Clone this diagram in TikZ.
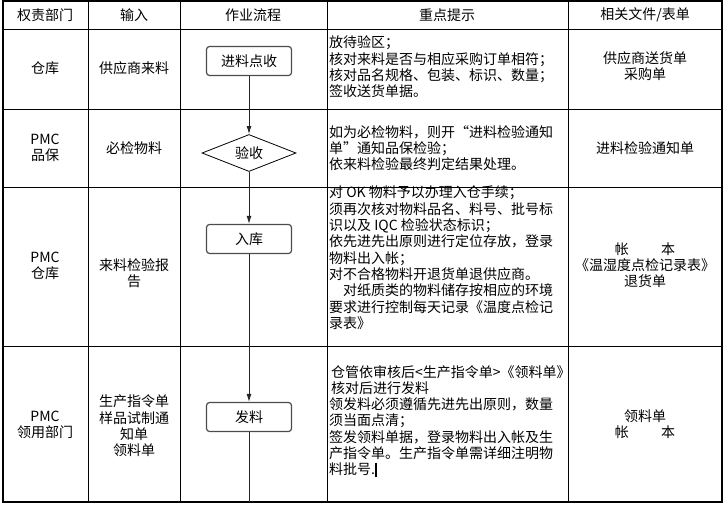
\documentclass[tikz,border=0pt]{standalone}
\usepackage{fontspec}
\setmainfont{Noto Sans CJK SC}
\usetikzlibrary{shapes.geometric, arrows.meta}

\tikzset{
  gridline/.style={line width=0.8pt},
  cell/.style={align=center, inner sep=0pt},
  note/.style={align=left, anchor=west, inner sep=0pt},
  flowbox/.style={draw=black!70, line width=1.2pt, rounded corners=3pt,
    minimum width=85pt, minimum height=29pt, inner sep=0pt},
  checkbox/.style={diamond, draw, line width=0.8pt, aspect=2.5,
    minimum width=94pt, minimum height=37pt, inner sep=0pt},
  flowline/.style={line width=0.9pt, black!85, -{Latex[length=8pt,width=5pt]}}
}

\begin{document}
\begin{tikzpicture}[x=1pt, y=-1pt, font=\fontsize{14pt}{16.3pt}\selectfont]

    \useasboundingbox (0,0) rectangle (725,504);

    % Table frame
    \draw[line width=1.8pt] (3,1) rectangle (722,502);
    \draw[gridline] (88,1) -- (88,502);
    \draw[gridline] (180,1) -- (180,502);
    \draw[gridline] (327,1) -- (327,502);
    \draw[gridline] (568,1) -- (568,502);
    \draw[gridline] (3,29) -- (722,29);
    \draw[gridline] (3,109) -- (722,109);
    \draw[gridline] (3,187) -- (722,187);
    \draw[gridline] (3,346) -- (722,346);

    % Header row
    \node[cell] (hdDept) at (45,15) {权责部门};
    \node[cell] (hdInput) at (134,15) {输入};
    \node[cell] (hdFlow) at (253,15) {作业流程};
    \node[cell] (hdHint) at (447,15) {重点提示};
    \node[cell] (hdDocs) at (645,15) {相关文件/表单};

    % Row 1: receiving
    \node[cell] (deptA) at (45,68) {仓库};
    \node[cell] (inputA) at (134,68) {供应商来料};
    \node[flowbox] (receive) at (249,61) {进料点收};
    \node[note] (hintA) at (329,67) {放待验区；\\核对来料是否与相应采购订单相符；\\核对品名规格、包装、标识、数量；\\签收送货单据。};
    \node[cell] (docsA) at (645,66) {供应商送货单\\采购单};

    % Row 2: inspection
    \node[cell] (deptB) at (45,148) {PMC\\品保};
    \node[cell] (inputB) at (134,148) {必检物料};
    \node[checkbox] (inspect) at (249,153) {验收};
    \node[note] (hintB) at (329,148) {如为必检物料，则开“进料检验通知\\单”通知品保检验；\\依来料检验最终判定结果处理。};
    \node[cell] (docsB) at (645,148) {进料检验通知单};

    % Row 3: storing
    \node[cell] (deptC) at (45,266) {PMC\\仓库};
    \node[cell] (inputC) at (134,273) {来料检验报\\告};
    \node[flowbox] (store) at (249,239) {入库};
    \node[note, anchor=north west] (hintC) at (329,186) {对 OK 物料予以办理入仓手续；\\须再次核对物料品名、料号、批号标\\识以及 IQC 检验状态标识；\\依先进先出原则进行定位存放，登录\\物料出入帐；\\对不合格物料开退货单退供应商。\\\hspace{1em}对纸质类的物料储存按相应的环境\\要求进行控制每天记录《温度点检记\\录表》};
    \node[cell] (docsC) at (645,265) {帐\hspace{2.3em}本\\《温湿度点检记录表》\\退货单};

    % Row 4: issuing
    \node[cell] (deptD) at (45,425) {PMC\\领用部门};
    \node[cell] (inputD) at (134,426) {生产指令单\\样品试制通\\知单\\领料单};
    \node[flowbox] (issue) at (249,417) {发料};
    \node[note] (hintD) at (329,421) {\hspace{2pt}仓管依审核后<生产指令单>《领料单》\\\hspace{2pt}核对后进行发料\\领发料必须遵循先进先出原则，数量\\须当面点清；\\签发领料单据，登录物料出入帐及生\\产指令单。生产指令单需详细注明物\\料批号.\rule[-2pt]{1.6pt}{14pt}};
    \node[cell] (docsD) at (645,424) {领料单\\帐\hspace{2.3em}本};

    % Flow connectors
    \coordinate (flowEnd) at (249,502);
    \draw[flowline] (receive) -- (inspect);
    \draw[flowline] (inspect) -- (store);
    \draw[flowline] (store) -- (issue);
    \draw[line width=0.9pt, black!85] (issue) -- (flowEnd);

\end{tikzpicture}
\end{document}
